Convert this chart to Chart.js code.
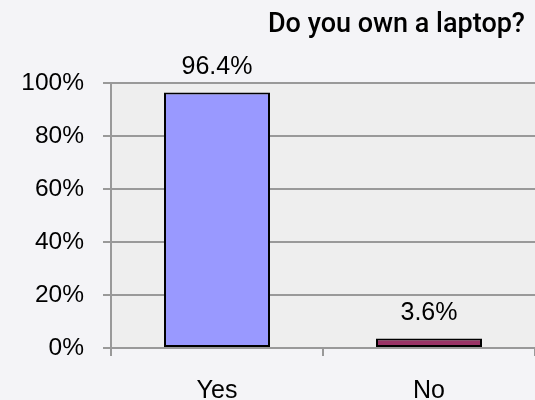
<!DOCTYPE html>
<html>
<head>
<meta charset="utf-8">
<script src="https://cdn.jsdelivr.net/npm/chart.js@4"></script>
<style>
    html, body { margin: 0; padding: 0; background: #f4f4f7; overflow: hidden; }
    #wrap { width: 535px; height: 400px; position: relative; }
</style>
</head>
<body>
<div id="wrap"><canvas id="laptopChart" width="535" height="400"></canvas></div>
<script>
// Chart data
const categories = ['Yes', 'No'];
const percentages = [96.4, 3.6];
const barColors = ['#9999ff', '#993366'];
const yTicks = [0, 20, 40, 60, 80, 100];
const chartTitle = 'Do you own a laptop?';

// Grey plot area background
const plotBackground = {
    id: 'plotBackground',
    beforeDraw(chart) {
        const { ctx, chartArea } = chart;
        ctx.save();
        ctx.fillStyle = '#eeeeee';
        ctx.fillRect(chartArea.left, chartArea.top, chartArea.right - chartArea.left, chartArea.bottom - chartArea.top);
        ctx.restore();
    }
};

// Value labels above bars and the title in the top right
const valueLabels = {
    id: 'valueLabels',
    afterDatasetsDraw(chart) {
        const ctx = chart.ctx;
        ctx.save();
        ctx.fillStyle = '#000';
        ctx.textAlign = 'center';
        ctx.textBaseline = 'middle';
        ctx.font = '25px "Liberation Sans", Arial, sans-serif';
        chart.getDatasetMeta(0).data.forEach((bar, i) => {
            ctx.fillText(percentages[i].toFixed(1) + '%', bar.x, bar.y - 25);
        });

        ctx.textAlign = 'right';
        ctx.textBaseline = 'alphabetic';
        ctx.font = '500 27px Roboto, "Liberation Sans", sans-serif';
        ctx.fillText(chartTitle, 525, 32);
        ctx.restore();
    }
};

document.addEventListener('DOMContentLoaded', () => {
    const ctx = document.getElementById('laptopChart').getContext('2d');
    new Chart(ctx, {
        type: 'bar',
        data: {
            labels: categories,
            datasets: [{
                data: percentages,
                backgroundColor: barColors,
                borderColor: '#000',
                borderWidth: 2,
                borderSkipped: false,
                barPercentage: 0.5,
                categoryPercentage: 1
            }]
        },
        options: {
            responsive: false,
            animation: false,
            layout: { padding: { top: 83, right: 0, left: 0, bottom: 0 } },
            plugins: {
                legend: { display: false },
                title: { display: false },
                tooltip: { enabled: false }
            },
            scales: {
                x: {
                    offset: true,
                    afterFit(scale) { scale.height = 52; },
                    grid: {
                        offset: true,
                        drawOnChartArea: false,
                        color: '#999',
                        lineWidth: 2,
                        tickLength: 8
                    },
                    border: { color: '#999', width: 2 },
                    ticks: {
                        color: '#000',
                        padding: 20,
                        font: { family: '"Liberation Sans", Arial, sans-serif', size: 25 }
                    }
                },
                y: {
                    min: 0,
                    max: 100,
                    afterFit(scale) { scale.width = 111; },
                    afterBuildTicks(scale) { scale.ticks = yTicks.map(v => ({ value: v })); },
                    grid: { color: '#999', lineWidth: 2, tickLength: 8 },
                    border: { color: '#999', width: 2 },
                    ticks: {
                        color: '#000',
                        padding: 19,
                        font: { family: '"Liberation Sans", Arial, sans-serif', size: 24.5 },
                        callback: v => v + '%'
                    }
                }
            }
        },
        plugins: [plotBackground, valueLabels]
    });
});
</script>
</body>
</html>
